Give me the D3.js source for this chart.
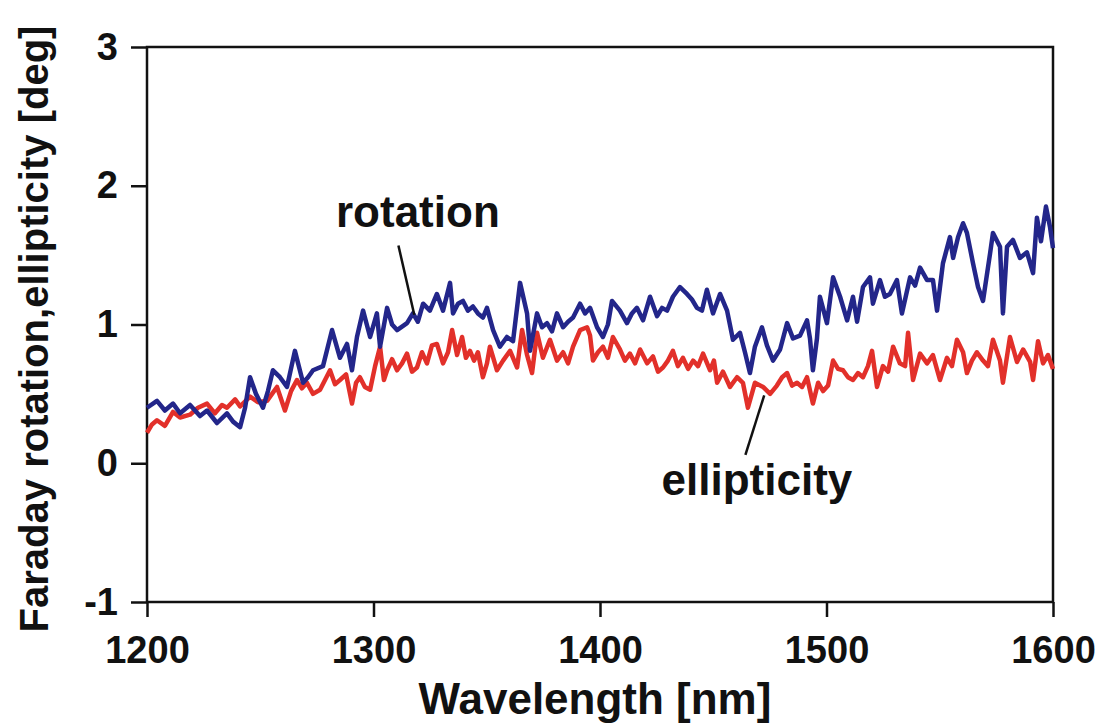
<!DOCTYPE html>
<html>
<head>
<meta charset="utf-8">
<script src="https://d3js.org/d3.v7.min.js"></script>
<style>
  body { margin: 0; background: #fff; }
  text { font-family: "Liberation Sans", Arial, sans-serif; font-weight: bold; fill: #111; }
</style>
</head>
<body>
<div id="chart"></div>
<script>
// x axis ticks and y axis ticks
const xTicks = [1200, 1300, 1400, 1500, 1600];
const yTicks = [-1, 0, 1, 2, 3];

// Faraday rotation [deg]: [wavelength nm, value]
const rotation = [
  [1200.0,0.40],[1204.4,0.45],[1207.9,0.38],[1211.5,0.43],[1214.6,0.36],[1219.0,0.42],[1223.4,0.34],
  [1226.5,0.38],[1230.9,0.29],[1235.3,0.36],[1238.0,0.30],[1241.1,0.26],[1243.3,0.40],[1245.5,0.62],
  [1248.1,0.50],[1251.2,0.40],[1253.4,0.52],[1255.6,0.67],[1258.7,0.62],[1261.8,0.55],[1265.3,0.81],
  [1268.9,0.58],[1271.1,0.62],[1273.3,0.67],[1277.7,0.70],[1281.7,0.96],[1285.2,0.76],[1288.3,0.86],
  [1290.5,0.67],[1292.7,0.91],[1295.4,1.10],[1298.5,0.91],[1301.5,1.08],[1302.9,0.84],[1306.0,1.12],
  [1308.2,1.00],[1310.4,0.96],[1314.8,1.01],[1317.4,1.08],[1319.6,1.02],[1321.9,1.15],[1324.9,1.10],
  [1328.0,1.22],[1330.7,1.10],[1333.8,1.30],[1335.1,1.08],[1337.3,1.15],[1339.5,1.17],[1341.7,1.10],
  [1343.9,1.13],[1346.1,1.08],[1348.3,1.05],[1350.1,1.12],[1352.8,0.96],[1355.8,0.84],[1358.9,0.91],
  [1361.6,0.88],[1364.7,1.30],[1367.8,1.08],[1369.1,0.81],[1372.2,1.08],[1374.4,0.98],[1376.6,1.01],
  [1378.8,0.95],[1381.0,1.08],[1383.7,0.98],[1385.9,1.02],[1388.1,1.05],[1391.2,1.15],[1393.4,1.08],
  [1395.6,1.12],[1398.7,0.98],[1401.3,0.91],[1403.5,1.00],[1405.3,1.17],[1408.8,1.10],[1411.9,1.01],
  [1414.1,1.08],[1416.3,1.12],[1419.0,1.03],[1422.1,1.20],[1425.2,1.06],[1427.4,1.12],[1429.6,1.10],
  [1432.2,1.20],[1435.3,1.27],[1438.4,1.22],[1440.6,1.18],[1442.8,1.12],[1445.0,1.10],[1447.2,1.25],
  [1449.9,1.08],[1453.0,1.22],[1456.1,1.10],[1458.7,0.89],[1461.8,0.94],[1464.0,0.80],[1466.2,0.65],
  [1468.4,0.84],[1471.5,0.98],[1473.7,0.85],[1476.4,0.74],[1479.5,0.82],[1482.6,1.01],[1485.2,0.90],
  [1488.3,0.92],[1491.4,1.03],[1492.7,0.90],[1494.0,0.67],[1495.8,0.90],[1497.1,1.20],[1500.2,1.01],
  [1502.9,1.34],[1506.0,1.20],[1509.1,1.03],[1511.7,1.20],[1513.5,1.02],[1516.1,1.27],[1519.2,1.34],
  [1520.5,1.15],[1523.6,1.32],[1525.8,1.20],[1528.0,1.22],[1531.1,1.32],[1533.3,1.08],[1536.9,1.34],
  [1539.1,1.28],[1541.3,1.41],[1544.4,1.32],[1547.0,1.32],[1548.8,1.10],[1551.4,1.44],[1554.5,1.63],
  [1555.9,1.48],[1558.1,1.63],[1560.3,1.73],[1562.0,1.66],[1564.7,1.44],[1566.9,1.27],[1569.1,1.17],
  [1572.2,1.51],[1573.5,1.66],[1576.6,1.56],[1577.9,1.08],[1579.7,1.56],[1582.3,1.61],[1585.4,1.48],
  [1588.5,1.52],[1591.2,1.37],[1592.9,1.77],[1594.7,1.60],[1596.9,1.85],[1598.7,1.70],[1600.0,1.55]
];

// ellipticity [deg]
const ellipticity = [
  [1200.0,0.22],[1202.2,0.28],[1204.4,0.31],[1207.9,0.27],[1211.5,0.37],[1214.6,0.33],[1219.0,0.35],
  [1222.5,0.40],[1226.5,0.43],[1230.0,0.36],[1233.1,0.42],[1235.3,0.40],[1238.9,0.46],[1241.1,0.41],
  [1245.5,0.48],[1249.0,0.44],[1253.0,0.45],[1255.2,0.50],[1257.4,0.55],[1260.9,0.38],[1263.6,0.52],
  [1266.2,0.60],[1268.4,0.54],[1270.6,0.58],[1273.3,0.50],[1276.4,0.53],[1278.6,0.60],[1280.8,0.67],
  [1283.0,0.57],[1285.2,0.60],[1287.9,0.64],[1290.5,0.43],[1292.3,0.58],[1294.0,0.62],[1296.2,0.55],
  [1298.5,0.53],[1300.7,0.70],[1302.9,0.84],[1304.6,0.60],[1306.0,0.67],[1308.2,0.75],[1310.4,0.67],
  [1312.6,0.72],[1314.8,0.79],[1317.0,0.66],[1319.2,0.69],[1321.4,0.80],[1323.6,0.72],[1325.8,0.85],
  [1328.0,0.86],[1330.7,0.72],[1332.9,0.80],[1334.7,0.96],[1336.9,0.78],[1339.1,0.91],[1340.8,0.76],
  [1342.6,0.81],[1344.4,0.74],[1346.1,0.80],[1348.3,0.62],[1350.1,0.72],[1351.4,0.84],[1354.5,0.67],
  [1357.2,0.74],[1360.3,0.81],[1363.4,0.69],[1365.6,0.96],[1367.8,0.78],[1370.0,0.65],[1372.2,0.94],
  [1374.8,0.76],[1377.9,0.89],[1381.0,0.74],[1383.7,0.80],[1385.9,0.72],[1388.1,0.84],[1391.2,0.96],
  [1394.3,0.98],[1395.6,0.92],[1396.9,0.74],[1399.1,0.80],[1401.3,0.84],[1403.5,0.76],[1405.7,0.91],
  [1408.8,0.82],[1411.0,0.74],[1413.2,0.79],[1415.5,0.72],[1417.7,0.82],[1420.8,0.72],[1423.4,0.77],
  [1425.6,0.66],[1427.8,0.69],[1430.0,0.74],[1432.2,0.81],[1434.4,0.70],[1436.6,0.76],[1438.9,0.68],
  [1441.1,0.74],[1443.3,0.70],[1445.5,0.79],[1448.6,0.67],[1450.3,0.74],[1451.7,0.58],[1454.3,0.66],
  [1457.4,0.55],[1460.5,0.62],[1463.1,0.58],[1465.3,0.40],[1468.4,0.58],[1472.0,0.55],[1475.1,0.50],
  [1478.1,0.56],[1480.4,0.62],[1482.6,0.65],[1484.8,0.56],[1487.0,0.58],[1489.2,0.55],[1491.4,0.62],
  [1494.0,0.43],[1496.3,0.58],[1498.5,0.52],[1500.7,0.56],[1502.9,0.74],[1505.1,0.68],[1507.3,0.67],
  [1509.5,0.62],[1511.7,0.60],[1513.9,0.65],[1516.1,0.62],[1518.3,0.70],[1520.1,0.81],[1522.3,0.55],
  [1524.9,0.70],[1527.2,0.66],[1529.4,0.84],[1532.4,0.72],[1534.7,0.70],[1536.0,0.94],[1538.2,0.60],
  [1541.3,0.79],[1544.4,0.72],[1547.0,0.78],[1550.1,0.60],[1553.2,0.76],[1555.4,0.70],[1557.6,0.89],
  [1560.3,0.80],[1562.0,0.65],[1564.2,0.74],[1566.4,0.80],[1569.1,0.74],[1571.3,0.70],[1573.5,0.89],
  [1576.6,0.74],[1577.9,0.58],[1581.0,0.91],[1584.1,0.73],[1586.8,0.82],[1589.9,0.73],[1591.2,0.60],
  [1593.4,0.88],[1595.6,0.72],[1597.8,0.78],[1600.0,0.68]
];

const W = 1107, H = 726;
const margin = {left: 147, right: 54, top: 47, bottom: 124};
const width = W - margin.left - margin.right;
const height = H - margin.top - margin.bottom;

const svg = d3.select("#chart")
    .append("svg")
    .attr("width", W)
    .attr("height", H)
    .append("g")
    .attr("transform", "translate(" + margin.left + "," + margin.top + ")");

const xScale = d3.scaleLinear().domain([1200, 1600]).range([0, width]);
const yScale = d3.scaleLinear().domain([-1, 3]).range([height, 0]);

//Frame round the plot
svg.append("rect")
    .attr("width", width)
    .attr("height", height)
    .attr("fill", "none")
    .attr("stroke", "#111")
    .attr("stroke-width", 2.5);

//Axes, ticks pointing outwards. Plain hyphen for the negative label like the original
const xAxis = svg.append("g")
    .attr("transform", "translate(0," + height + ")")
    .call(d3.axisBottom(xScale).tickValues(xTicks).tickSize(15).tickSizeOuter(0).tickPadding(19).tickFormat(d => String(d)));
const yAxis = svg.append("g")
    .call(d3.axisLeft(yScale).tickValues(yTicks).tickSize(16).tickSizeOuter(0).tickPadding(13).tickFormat(d => String(d)));

[xAxis, yAxis].forEach(a => {
    a.select(".domain").remove();
    a.selectAll(".tick line").attr("stroke", "#111").attr("stroke-width", 2.5);
    a.selectAll(".tick text").attr("font-size", 38).attr("fill", "#111")
        .attr("font-family", "Liberation Sans, Arial, sans-serif").attr("font-weight", "bold");
});

//Data lines
const line = d3.line().x(d => xScale(d[0])).y(d => yScale(d[1]));

svg.append("path")
    .datum(ellipticity)
    .attr("d", line)
    .attr("fill", "none")
    .attr("stroke", "#e2302a")
    .attr("stroke-width", 4.5)
    .attr("stroke-linejoin", "round");

svg.append("path")
    .datum(rotation)
    .attr("d", line)
    .attr("fill", "none")
    .attr("stroke", "#23268a")
    .attr("stroke-width", 4.5)
    .attr("stroke-linejoin", "round");

//Annotations with pointer lines
svg.append("text")
    .attr("x", xScale(1319.6)).attr("y", yScale(1.70))
    .attr("text-anchor", "middle")
    .attr("font-size", 44)
    .text("rotation");
svg.append("line")
    .attr("x1", xScale(1311)).attr("y1", yScale(1.57))
    .attr("x2", xScale(1318)).attr("y2", yScale(1.07))
    .attr("stroke", "#111").attr("stroke-width", 2.5);

svg.append("text")
    .attr("x", xScale(1469.3)).attr("y", yScale(-0.23))
    .attr("text-anchor", "middle")
    .attr("font-size", 44)
    .text("ellipticity");
svg.append("line")
    .attr("x1", xScale(1472.5)).attr("y1", yScale(0.49))
    .attr("x2", xScale(1464.2)).attr("y2", yScale(0.06))
    .attr("stroke", "#111").attr("stroke-width", 2.5);

//Axis titles
svg.append("text")
    .attr("x", width / 2 - 5)
    .attr("y", height + 112)
    .attr("text-anchor", "middle")
    .attr("font-size", 44)
    .text("Wavelength [nm]");

svg.append("text")
    .attr("transform", "translate(" + (-99) + "," + (282) + ") rotate(-90)")
    .attr("text-anchor", "middle")
    .attr("font-size", 40)
    .text("Faraday rotation,ellipticity [deg]");
</script>
</body>
</html>
